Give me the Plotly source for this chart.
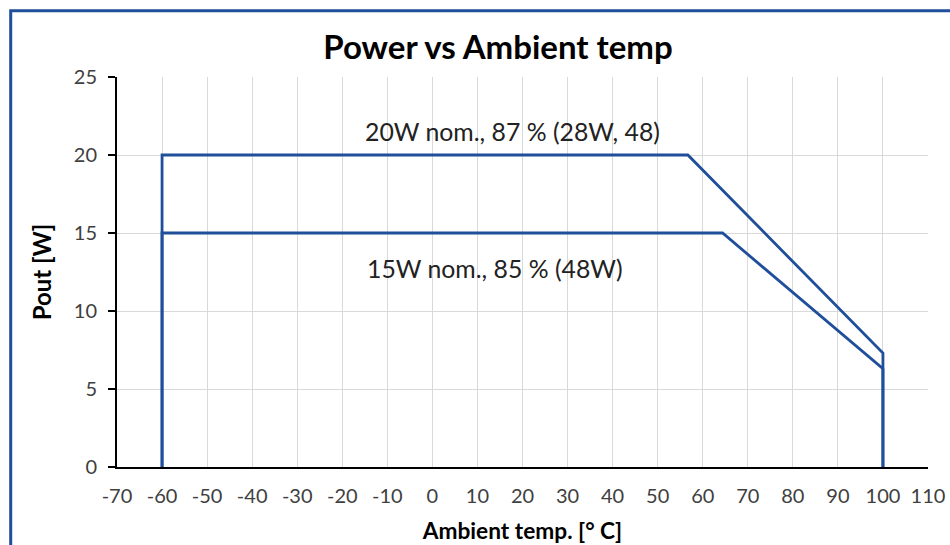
import plotly.graph_objects as go

# data
temp_20w = [-60, -60, 56.7, 100, 100]
pout_20w = [0, 20, 20, 7.3, 0]
temp_15w = [-60, -60, 64.4, 100, 100]
pout_15w = [0, 15, 15, 6.3, 0]
x_ticks = list(range(-70, 111, 10))
x_ticktext = [str(v) for v in x_ticks]
y_ticks = [0, 5, 10, 15, 20, 25]
y_ticktext = [str(v) for v in y_ticks]
label_20w = "20W nom., 87 % (28W, 48)"
label_15w = "15W nom., 85 % (48W)"

line_color = "#1F4E9A"
font_family = "Lato, Open Sans, sans-serif"

fig = go.Figure()
fig.add_trace(go.Scatter(x=temp_20w, y=pout_20w, mode="lines",
                         line=dict(color=line_color, width=2.8), showlegend=False))
fig.add_trace(go.Scatter(x=temp_15w, y=pout_15w, mode="lines",
                         line=dict(color=line_color, width=2.8), showlegend=False))

fig.add_annotation(x=17.8, y=21.5, text=label_20w, showarrow=False, xref="x", yref="y",
                   font=dict(family=font_family, size=24.8, color="#222222"))
fig.add_annotation(x=14, y=12.7, text=label_15w, showarrow=False, xref="x", yref="y",
                   font=dict(family=font_family, size=24.8, color="#222222"))

# outer blue frame
fig.add_shape(type="rect", xref="paper", yref="paper",
              x0=(10.7 - 117) / 811, x1=(965 - 117) / 811,
              y0=(467 - 570) / 390, y1=1 + (77 - 10.7) / 390,
              line=dict(color="#1F4E9A", width=3), layer="above")

fig.update_layout(
    width=950, height=545,
    margin=dict(l=117, r=22, t=77, b=78, autoexpand=False),
    paper_bgcolor="white", plot_bgcolor="white",
    title=dict(text="<b>Power vs Ambient temp</b>", x=(498 - 117) / 811, xref="paper",
               xanchor="center", y=1 - 47 / 545, yanchor="middle",
               font=dict(family=font_family, size=33, color="black")),
    font=dict(family=font_family),
)
fig.update_xaxes(range=[-70, 110], tickvals=x_ticks, ticktext=x_ticktext, showgrid=True,
                 gridcolor="#D9D9D9", gridwidth=1.3, zeroline=False, showline=True,
                 linecolor="black", linewidth=2, ticks="", ticklabelstandoff=10,
                 automargin=False,
                 tickfont=dict(family=font_family, size=20, color="#404040"),
                 title=dict(text="<b>Ambient temp. [° C]</b>", standoff=17,
                            font=dict(family=font_family, size=22.7, color="black")))
fig.update_yaxes(range=[0, 25], tickvals=y_ticks, ticktext=y_ticktext, showgrid=True,
                 gridcolor="#D9D9D9", gridwidth=1.3, zeroline=False, showline=True,
                 linecolor="black", linewidth=2, automargin=False,
                 ticks="outside", ticklen=7, tickcolor="black", tickwidth=1.5,
                 ticklabelstandoff=7,
                 tickfont=dict(family=font_family, size=20, color="#404040"),
                 title=dict(text="<b>Pout [W]</b>", standoff=15,
                            font=dict(family=font_family, size=24, color="black")))

fig.write_html("out.html", config={"displayModeBar": False},
               post_script="document.body.style.margin='0';")
